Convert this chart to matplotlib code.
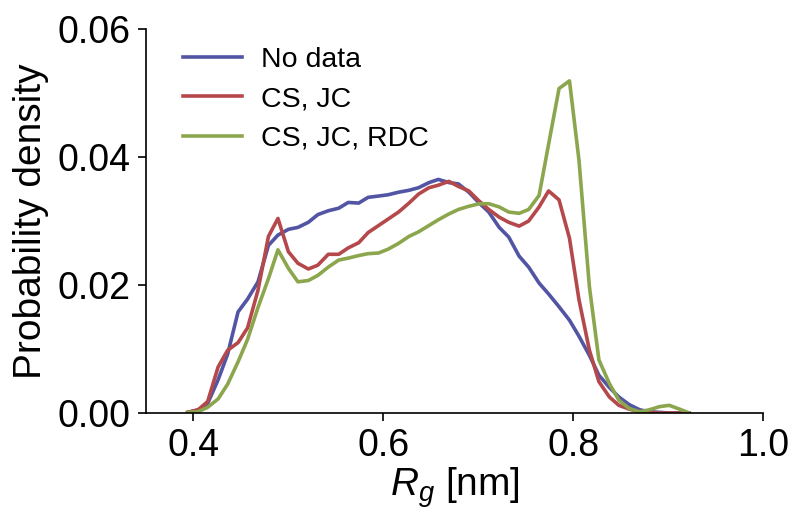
import matplotlib
matplotlib.use("Agg")
import matplotlib.pyplot as plt

plt.rcParams['font.family'] = ['Liberation Sans', 'DejaVu Sans']
plt.rcParams['mathtext.fontset'] = 'custom'
plt.rcParams['mathtext.it'] = 'Liberation Sans:italic'
plt.rcParams['mathtext.rm'] = 'Liberation Sans'

# bin centres of the Rg histogram [nm]
rg = [0.394, 0.405, 0.415, 0.426, 0.436, 0.447, 0.457, 0.468, 0.479, 0.489,
      0.500, 0.510, 0.521, 0.531, 0.542, 0.553, 0.563, 0.574, 0.584, 0.595,
      0.605, 0.616, 0.627, 0.637, 0.648, 0.658, 0.669, 0.679, 0.690, 0.701,
      0.711, 0.722, 0.732, 0.743, 0.753, 0.764, 0.774, 0.785, 0.796, 0.806,
      0.817, 0.827, 0.838, 0.848, 0.859, 0.870, 0.880, 0.891, 0.901, 0.912,
      0.922]

no_data = [0.0001, 0.0005, 0.0015, 0.0052, 0.0092, 0.0158, 0.0178, 0.0205, 0.0262, 0.0278,
           0.0287, 0.0290, 0.0298, 0.0310, 0.0316, 0.0320, 0.0329, 0.0328, 0.0337, 0.0339,
           0.0341, 0.0345, 0.0348, 0.0352, 0.0360, 0.0365, 0.0360, 0.0358, 0.0345, 0.0328,
           0.0314, 0.0290, 0.0275, 0.0245, 0.0228, 0.0203, 0.0186, 0.0166, 0.0145, 0.0120,
           0.0090, 0.0059, 0.0040, 0.0025, 0.0013, 0.0005, 0.0002, 0.0001, 0.0, 0.0,
           0.0]

cs_jc = [0.0001, 0.0005, 0.0018, 0.0072, 0.0098, 0.0110, 0.0133, 0.0192, 0.0276, 0.0304,
         0.0252, 0.0234, 0.0225, 0.0231, 0.0248, 0.0248, 0.0258, 0.0266, 0.0282, 0.0293,
         0.0303, 0.0314, 0.0328, 0.0342, 0.0352, 0.0356, 0.0362, 0.0354, 0.0347, 0.0331,
         0.0318, 0.0306, 0.0298, 0.0292, 0.0300, 0.0322, 0.0347, 0.0333, 0.0273, 0.0177,
         0.0098, 0.0049, 0.0025, 0.0012, 0.0006, 0.0002, 0.0001, 0.0, 0.0, 0.0,
         0.0]

cs_jc_rdc = [0.0001, 0.0002, 0.0009, 0.0022, 0.0045, 0.0080, 0.0115, 0.0165, 0.0210, 0.0255,
             0.0226, 0.0205, 0.0207, 0.0215, 0.0228, 0.0239, 0.0242, 0.0246, 0.0249, 0.0250,
             0.0256, 0.0265, 0.0276, 0.0283, 0.0293, 0.0302, 0.0311, 0.0318, 0.0323, 0.0327,
             0.0327, 0.0322, 0.0314, 0.0312, 0.0318, 0.0340, 0.0420, 0.0507, 0.0519, 0.0395,
             0.0197, 0.0083, 0.0046, 0.0020, 0.0007, 0.0002, 0.0005, 0.0010, 0.0012, 0.0006,
             0.0]

labels = ["No data", "CS, JC", "CS, JC, RDC"]
colors = ["#5254a4", "#b5484b", "#8ca64e"]

fig = plt.figure(figsize=(7.95, 5.09), dpi=100)
ax = fig.add_axes([0.1836, 0.1886, 0.7764, 0.7544])

for y, lab, c in zip([no_data, cs_jc, cs_jc_rdc], labels, colors):
    ax.plot(rg, y, color=c, lw=2.6, label=lab)

ax.set_xlim(0.35, 1.0)
ax.set_ylim(0, 0.06)
ax.set_xticks([0.4, 0.6, 0.8, 1.0])
ax.set_yticks([0.0, 0.02, 0.04, 0.06])
ax.set_xticklabels(["0.4", "0.6", "0.8", "1.0"])
ax.set_yticklabels(["0.00", "0.02", "0.04", "0.06"])
ax.tick_params(labelsize=27, length=6, width=1.2, direction='out', pad=5)
for s in ['top', 'right']:
    ax.spines[s].set_visible(False)
for s in ['left', 'bottom']:
    ax.spines[s].set_linewidth(1.2)

ax.set_xlabel("$R_g$ [nm]", fontsize=28, labelpad=1)
ax.set_ylabel("Probability density", fontsize=28, labelpad=6)

ax.legend(loc='upper left', bbox_to_anchor=(0.027, 1.005), frameon=False, fontsize=20.5,
          handlelength=2.1, handletextpad=0.65, labelspacing=0.47, borderaxespad=0.3)

fig.savefig("out.png", dpi=100)
